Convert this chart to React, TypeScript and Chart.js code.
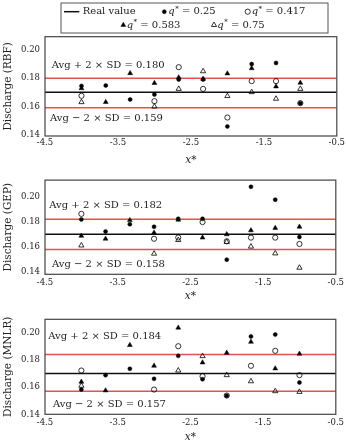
import React, { useEffect, useRef } from "react";
import { Chart, registerables } from "chart.js";

Chart.register(...registerables);

// ---------- data ----------
const xValues = [-4, -3.667, -3.333, -3, -2.667, -2.333, -2, -1.667, -1.333, -1];
const xTicks = [-4.5, -3.5, -2.5, -1.5, -0.5];
const yTicks = [0.14, 0.16, 0.18, 0.2];
const realValue = 0.17;
const qValues = ["0.25", "0.417", "0.583", "0.75"];
const panelNames = ["Discharge (RBF)", "Discharge (GEP)", "Discharge (MNLR)"];
const upperLimits = [0.18, 0.182, 0.184];
const lowerLimits = [0.159, 0.158, 0.157];

// RBF
const rbfQ025 = [0.1745, 0.1748, 0.1649, 0.1684, 0.179, 0.179, 0.1458, 0.19, 0.1908, 0.1623];
const rbfQ0417 = [0.1675, null, null, 0.1637, 0.1878, 0.1724, 0.1521, 0.1779, 0.1779, 0.1623];
const rbfQ0583 = [0.1728, 0.163, 0.1835, 0.1765, 0.1805, 0.1795, 0.1833, 0.187, 0.1741, 0.1767];
const rbfQ075 = [0.163, null, null, 0.1599, 0.1724, 0.1849, 0.1673, 0.1701, 0.1654, 0.1724];

// GEP
const gepQ025 = [0.1818, 0.1722, 0.178, 0.176, 0.1823, 0.1823, 0.15, 0.2076, 0.1974, 0.1679];
const gepQ0417 = [0.1862, null, null, 0.1665, 0.1675, 0.1797, 0.1645, 0.1674, 0.1674, 0.1624];
const gepQ0583 = [0.1688, 0.1665, 0.1812, 0.1713, 0.1815, 0.1674, 0.17, 0.1731, 0.175, 0.176];
const gepQ075 = [0.1612, null, null, 0.1547, 0.1655, null, 0.164, 0.1603, 0.1549, 0.1436];

// MNLR
const mnlrQ025 = [0.1582, 0.1688, 0.1735, 0.1661, 0.183, 0.1658, 0.1536, 0.1973, 0.1987, 0.1634];
const mnlrQ0417 = [0.1722, null, null, 0.1582, 0.1901, 0.168, 0.1538, 0.1757, 0.1867, 0.1688];
const mnlrQ0583 = [0.1639, 0.1575, 0.1909, 0.1757, 0.2037, 0.1781, 0.1852, 0.1933, 0.1737, 0.1845];
const mnlrQ075 = [0.161, null, null, null, 0.1722, 0.1828, 0.1688, 0.1643, 0.157, 0.1565];

const panelSeries = [
  [rbfQ025, rbfQ0417, rbfQ0583, rbfQ075],
  [gepQ025, gepQ0417, gepQ0583, gepQ075],
  [mnlrQ025, mnlrQ0417, mnlrQ0583, mnlrQ075],
];

// ---------- styles / layout ----------
const FONT = "DejaVu Serif";
const TEXT = "#222";
const RED = "rgb(232,80,80)";

const yRanges = [
  [0.139, 0.2094],
  [0.1384, 0.2129],
  [0.14, 0.2099],
];

const layouts = [
  { top: 0, H: 170, plotTop: 36.7, plotBottom: 136, tickPad: 2, titlePadB: 3.7,
    upText: [51.7, 28.3], lowText: [50, 17.7] },
  { top: 170, H: 136, plotTop: 9.3, plotBottom: 104.3, tickPad: 3, titlePadB: 3,
    upText: [49.3, 25.7], lowText: [52, 10] },
  { top: 306, H: 138, plotTop: 13.3, plotBottom: 108.3, tickPad: 3, titlePadB: 0,
    upText: [48.3, 17.4], lowText: [53, 10.3] },
];

const markerStyles = [
  { style: "circle", r: 2, fill: "#000", bw: 0.5 },
  { style: "circle", r: 2.6, fill: "rgba(255,255,255,0)", bw: 0.8 },
  { style: "triangle", r: 2.8, fill: "#000", bw: 0.5 },
  { style: "triangle", r: 3, fill: "rgba(255,255,255,0)", bw: 0.8 },
];

function drawMarker(ctx: CanvasRenderingContext2D, k: number, x: number, y: number) {
  const m = markerStyles[k];
  ctx.beginPath();
  if (m.style === "circle") {
    ctx.arc(x, y, m.r, 0, Math.PI * 2);
  } else {
    const r = m.r;
    ctx.moveTo(x, y - r);
    ctx.lineTo(x + r * Math.sin((2 * Math.PI) / 3), y - r * Math.cos((2 * Math.PI) / 3));
    ctx.lineTo(x + r * Math.sin((4 * Math.PI) / 3), y - r * Math.cos((4 * Math.PI) / 3));
    ctx.closePath();
  }
  ctx.fillStyle = m.fill;
  ctx.fill();
  ctx.strokeStyle = "#000";
  ctx.lineWidth = m.bw;
  ctx.stroke();
}

function drawQLabel(ctx: CanvasRenderingContext2D, x: number, y: number, q: string) {
  ctx.textBaseline = "middle";
  ctx.textAlign = "left";
  ctx.fillStyle = TEXT;
  ctx.font = `italic 10px "${FONT}"`;
  ctx.fillText("q", x, y);
  let cx = x + ctx.measureText("q").width + 0.5;
  ctx.font = `7px "${FONT}"`;
  ctx.fillText("*", cx, y - 3);
  cx += ctx.measureText("*").width;
  ctx.font = `10px "${FONT}"`;
  ctx.fillText(" = " + q, cx, y);
}

const legendPlugin = {
  id: "boxLegend",
  afterDraw(chart: any) {
    const ctx: CanvasRenderingContext2D = chart.ctx;
    ctx.save();
    ctx.strokeStyle = "#555";
    ctx.lineWidth = 1;
    ctx.strokeRect(61, 3, 267, 30);
    const row1 = 11.7;
    const row2 = 25;
    // Real value
    ctx.beginPath();
    ctx.moveTo(64, row1);
    ctx.lineTo(79.3, row1);
    ctx.strokeStyle = "#111";
    ctx.lineWidth = 1.5;
    ctx.stroke();
    ctx.font = `10px "${FONT}"`;
    ctx.fillStyle = TEXT;
    ctx.textBaseline = "middle";
    ctx.textAlign = "left";
    ctx.fillText("Real value", 82.7, row1);
    const items = [
      { mx: 164.3, tx: 168.3, y: row1 },
      { mx: 247.7, tx: 251.7, y: row1 },
      { mx: 123.3, tx: 126.7, y: row2 },
      { mx: 214, tx: 217.3, y: row2 },
    ];
    items.forEach((it, k) => {
      drawMarker(ctx, k, it.mx, it.y);
      drawQLabel(ctx, it.tx, it.y, qValues[k]);
    });
    ctx.restore();
  },
};

function makeFramePlugin(idx: number) {
  const L = layouts[idx];
  return {
    id: "frame" + idx,
    afterDraw(chart: any) {
      const { ctx, chartArea } = chart;
      ctx.save();
      ctx.strokeStyle = "#444";
      ctx.lineWidth = 1.2;
      ctx.strokeRect(chartArea.left, chartArea.top, chartArea.right - chartArea.left, chartArea.bottom - chartArea.top);
      ctx.font = `10px "${FONT}"`;
      ctx.fillStyle = TEXT;
      ctx.textBaseline = "middle";
      ctx.textAlign = "left";
      ctx.fillText(
        `Avg + 2 \u00d7 SD = ${upperLimits[idx].toFixed(3)}`,
        L.upText[0],
        chartArea.top + L.upText[1]
      );
      ctx.fillText(
        `Avg \u2212 2 \u00d7 SD = ${lowerLimits[idx].toFixed(3)}`,
        L.lowText[0],
        chartArea.bottom - L.lowText[1]
      );
      ctx.restore();
    },
  };
}

function Panel({ idx }: { idx: number }) {
  const ref = useRef<HTMLCanvasElement | null>(null);
  const L = layouts[idx];
  useEffect(() => {
    if (!ref.current) return;
    const toPts = (ys: (number | null)[]) =>
      xValues.map((x, i) => ({ x, y: ys[i] })).filter((p) => p.y !== null);
    const hLine = (v: number) => [
      { x: xTicks[0], y: v },
      { x: xTicks[xTicks.length - 1], y: v },
    ];
    const datasets: any[] = [
      { label: "Real value", data: hLine(realValue), showLine: true, borderColor: "#111", borderWidth: 1.5, pointRadius: 0, order: 5 },
      { label: "upper", data: hLine(upperLimits[idx]), showLine: true, borderColor: RED, borderWidth: 1.5, pointRadius: 0, order: 5 },
      { label: "lower", data: hLine(lowerLimits[idx]), showLine: true, borderColor: RED, borderWidth: 1.5, pointRadius: 0, order: 5 },
      ...markerStyles.map((m, k) => ({
        label: "q* = " + qValues[k],
        data: toPts(panelSeries[idx][k]),
        pointStyle: m.style,
        pointRadius: m.r,
        backgroundColor: m.fill,
        borderColor: "#000",
        borderWidth: m.bw,
        showLine: false,
        order: 1,
      })),
    ];
    const plugins: any[] = [makeFramePlugin(idx)];
    if (idx === 0) plugins.push(legendPlugin);
    const chart = new Chart(ref.current, {
      type: "scatter",
      data: { datasets },
      plugins,
      options: {
        responsive: false,
        animation: false,
        events: [],
        layout: { autoPadding: false, padding: { top: L.plotTop, right: 8.5, left: 0, bottom: 0 } },
        plugins: { legend: { display: false }, tooltip: { enabled: false } },
        scales: {
          x: {
            type: "linear",
            min: xTicks[0],
            max: xTicks[xTicks.length - 1],
            grid: { display: false, drawTicks: false },
            border: { display: false },
            afterBuildTicks: (s: any) => {
              s.ticks = xTicks.map((v) => ({ value: v }));
            },
            afterFit: (s: any) => {
              s.height = L.H - L.plotBottom;
            },
            ticks: {
              autoSkip: false,
              maxRotation: 0,
              padding: L.tickPad,
              color: TEXT,
              font: { family: FONT, size: 8.5 },
              callback: (v: any) => Number(v).toFixed(1),
            },
            title: {
              display: true,
              text: "x*",
              color: TEXT,
              font: { family: FONT, size: 10.5, style: "italic" },
              padding: { top: 0, bottom: L.titlePadB },
            },
          },
          y: {
            type: "linear",
            min: yRanges[idx][0],
            max: yRanges[idx][1],
            grid: { display: false, drawTicks: false },
            border: { display: false },
            afterBuildTicks: (s: any) => {
              s.ticks = yTicks.map((v) => ({ value: v }));
            },
            afterFit: (s: any) => {
              s.width = 45;
            },
            ticks: {
              autoSkip: false,
              padding: 5,
              color: TEXT,
              font: { family: FONT, size: 8.5 },
              callback: (v: any) => Number(v).toFixed(2),
            },
            title: {
              display: true,
              text: panelNames[idx],
              color: TEXT,
              font: { family: FONT, size: 10.5 },
              padding: { top: 2, bottom: 0 },
            },
          },
        },
      } as any,
    });
    return () => chart.destroy();
  }, [idx]);
  return (
    <canvas
      ref={ref}
      width={347}
      height={L.H}
      style={{ position: "absolute", left: 0, top: L.top, width: 347, height: L.H, display: "block" }}
    />
  );
}

export default function App() {
  return (
    <div style={{ position: "fixed", left: 0, top: 0, width: 347, height: 444, background: "#fff", overflow: "hidden" }}>
      <Panel idx={0} />
      <Panel idx={1} />
      <Panel idx={2} />
    </div>
  );
}
